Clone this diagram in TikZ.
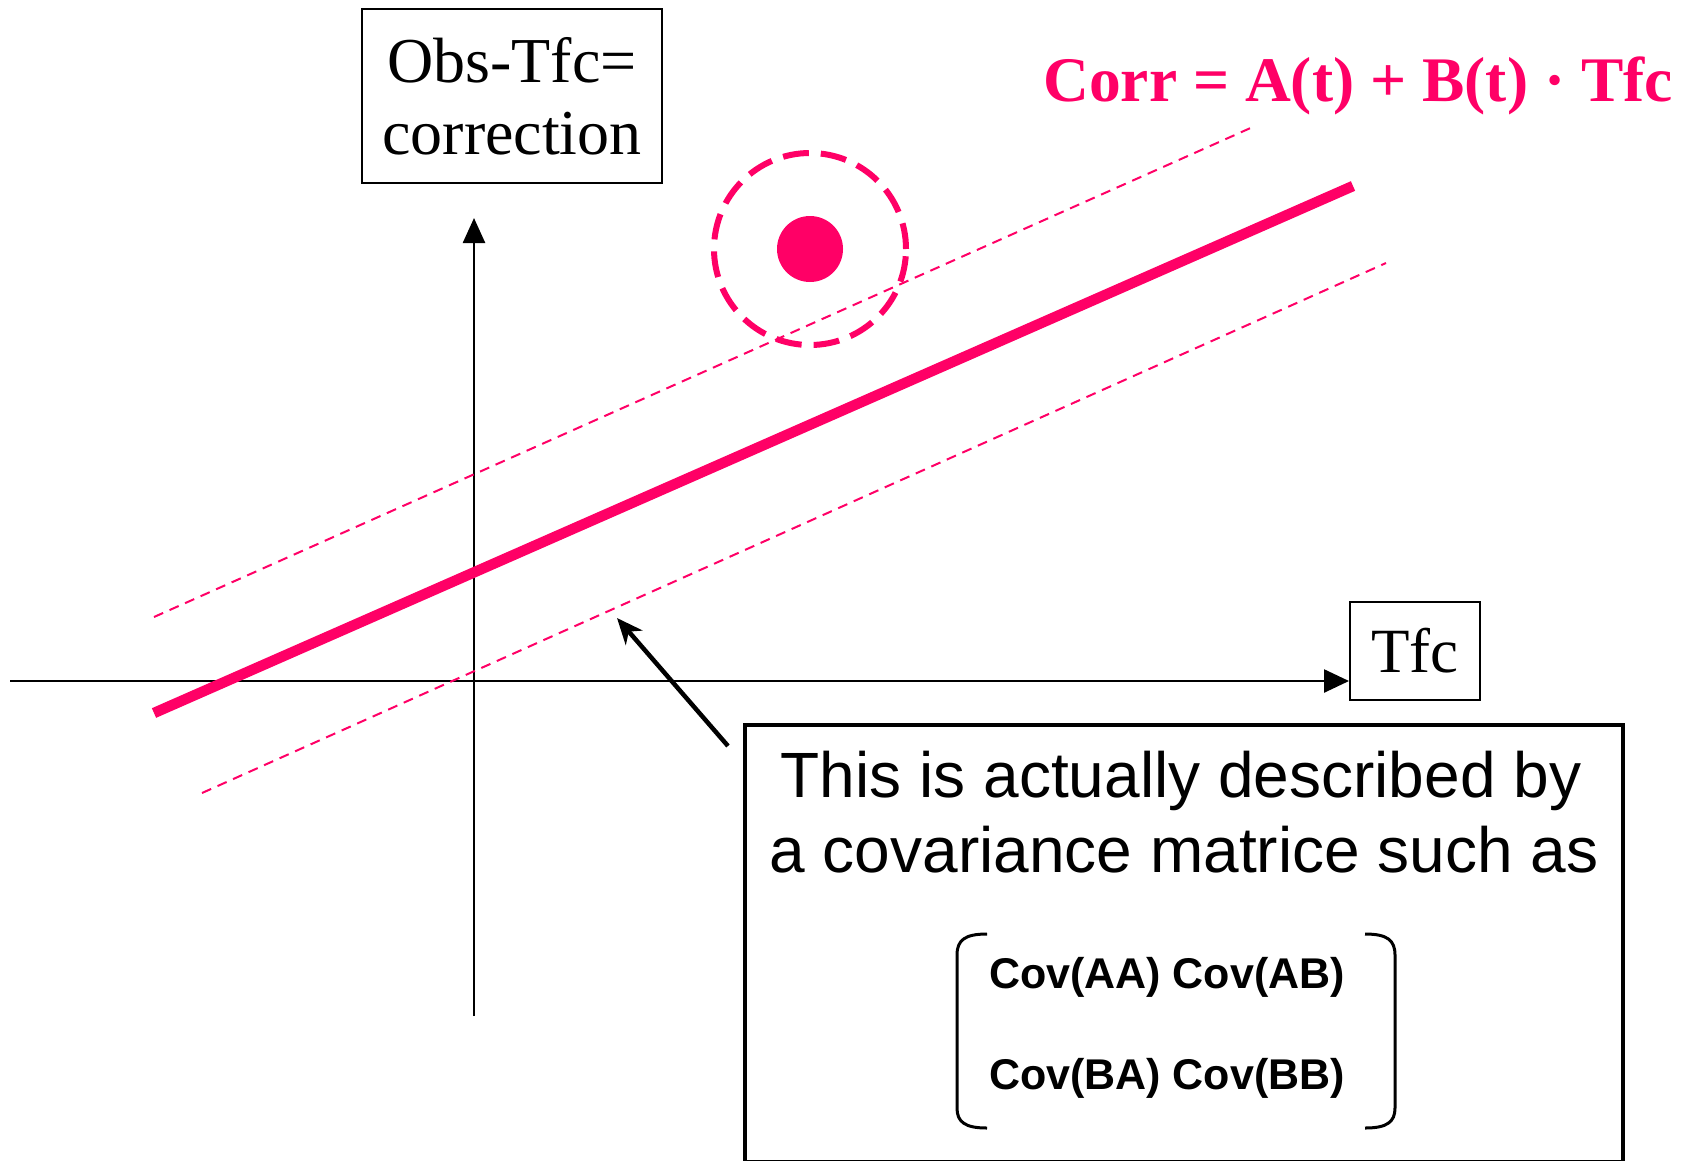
\documentclass[tikz,border=0pt]{standalone}
\usepackage{fontspec}
\setmainfont{Liberation Serif}
\newfontfamily\arialfont{Liberation Sans}
\usetikzlibrary{arrows.meta}
\definecolor{pk}{RGB}{255,0,102}
\tikzset{
  boxthin/.style={draw=black, line width=2pt, inner sep=0pt},
  axisline/.style={draw=black, line width=2.5pt},
  dashline/.style={draw=pk, line width=2pt, dash pattern=on 10pt off 7pt},
  bigtext/.style={font=\arialfont\fontsize{64}{75}\selectfont, anchor=base, inner sep=0pt},
  mattext/.style={font=\arialfont\bfseries\fontsize{43}{50}\selectfont, anchor=base, inner sep=0pt},
  bracketline/.style={draw=black, line width=3pt}
}
\begin{document}
\begin{tikzpicture}[x=1pt,y=-1pt]
\useasboundingbox (0,0) rectangle (1693,1160);
% boxes
\node[boxthin, minimum width=300pt, minimum height=174pt, align=center,
      font=\fontsize{64}{72}\selectfont] (obs) at (512,96) {\raisebox{0pt}{Obs-Tfc=}\\correction};
\node[boxthin, minimum width=130pt, minimum height=98pt,
      font=\fontsize{63}{70}\selectfont] (tfc) at (1415,651) {Tfc};
% axes
\coordinate (xleft) at (10,681);
\coordinate (ybot) at (474,1016);
\coordinate (ytop) at (474,218);
\draw[axisline, -{Triangle[length=25pt,width=23pt]}] (xleft) -- (xleft -| tfc.west);
\draw[axisline, -{Triangle[length=25pt,width=22pt]}] (ybot) -- (ytop);
% fit lines
\coordinate (fa) at (154,713);
\coordinate (fb) at (1353,186);
\coordinate (ua) at (154,617);
\coordinate (ub) at (1255,126);
\coordinate (la) at (202,793);
\coordinate (lb) at (1386,263);
\draw[dashline] (ua) -- (ub);
\draw[dashline] (la) -- (lb);
\draw[draw=pk, line width=10.5pt] (fa) -- (fb);
% outlier point
\node[circle, fill=pk, minimum size=66pt, inner sep=0pt] (dot) at (810,249) {};
\node[circle, draw=pk, line width=6pt, dash pattern=on 26pt off 12pt, minimum size=192pt, inner sep=0pt] (ring) at (810,249) {};
% formula
\node[anchor=base west, inner sep=0pt, text=pk, font=\bfseries\fontsize{63.5}{70}\selectfont] (corr) at (1043,101) {Corr = A(t) + B(t) · Tfc};
% description box
\node[draw=black, line width=4pt, minimum width=878pt, minimum height=437pt, inner sep=0pt] (desc) at (1184,943.5) {};
\node[bigtext] (l1) at (1181,797) {This is actually described by};
\node[bigtext] (l2) at (1184,872) {a covariance matrice such as};
\node[mattext] (m1) at (1167,988) {Cov(AA) Cov(AB)};
\node[mattext] (m2) at (1167,1089) {Cov(BA) Cov(BB)};
% brackets
\draw[bracketline] (987,934) .. controls (965,934) and (957,940) .. (957,955) -- (957,1108) .. controls (957,1122) and (965,1128) .. (987,1128);
\draw[bracketline] (1365,934) .. controls (1387,934) and (1395,940) .. (1395,955) -- (1395,1108) .. controls (1395,1122) and (1387,1128) .. (1365,1128);
% pointer arrow
\coordinate (atail) at (728,746);
\coordinate (ahead) at (617,618);
\draw[line width=4.5pt, -{Stealth[length=26pt,width=22pt,inset=8pt]}] (atail) -- (ahead);
\end{tikzpicture}
\end{document}
